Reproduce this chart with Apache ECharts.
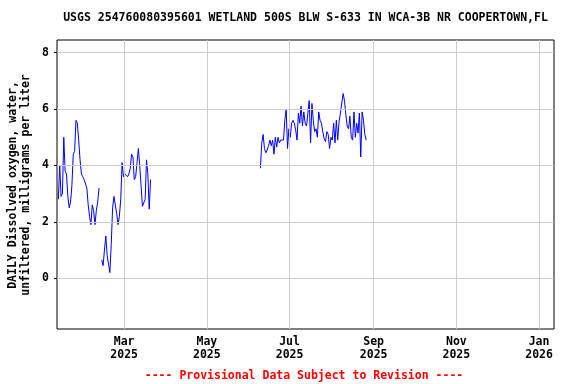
<!DOCTYPE html>
<html>
<head>
<meta charset="utf-8">
<script src="https://cdn.jsdelivr.net/npm/echarts@6/dist/echarts.min.js"></script>
<style>html,body{margin:0;padding:0;background:#fff}#c{width:576px;height:384px}</style>
</head>
<body>
<div id="c"></div>
<script>
var titleText = 'USGS 254760080395601 WETLAND 500S BLW S-633 IN WCA-3B NR COOPERTOWN,FL';
var yLabelLines = ['DAILY Dissolved oxygen, water,', 'unfiltered, milligrams per liter'];
var footerText = '---- Provisional Data Subject to Revision ----';

var xTickDates = ['2025-03-01', '2025-05-01', '2025-07-01', '2025-09-01', '2025-11-01', '2026-01-01'];
var xTickLabels = ['Mar\n2025', 'May\n2025', 'Jul\n2025', 'Sep\n2025', 'Nov\n2025', 'Jan\n2026'];
var yTicks = [0, 2, 4, 6, 8];
var xRange = ['2025-01-10T12:00:00Z', '2026-01-12T00:00:00Z'];
var yRange = [-1.8, 8.45];

// daily values, consecutive days from the start date (null = missing)
var seg1Start = '2025-01-11';
var seg1Values = [2.8, 4.0, 2.9, 3.0, 5.0, 3.8, 3.7, 2.9, 2.5, 2.7, 3.3, 4.4, 4.5, 5.6, 5.5, 4.9, 4.2, 3.7, 3.6, 3.5,
  3.5, 3.2, 2.6, 2.2, 1.9, 2.6, 2.4, 1.9, 2.4, 2.7, 3.2, null, 0.65, 0.45, 1.0, 1.5, 0.8, 0.5, 0.2, 1.2,
  2.5, 2.9, 2.9, 2.3, 1.9, 2.2, 2.8, 4.1, 3.6, 3.7, 3.7, 3.6, 3.7, 3.9, 4.4, 4.3, 3.5, 3.6, 4.1, 4.6,
  4.0, 3.3, 2.55, 2.55, 2.8, 4.2, 3.7, 2.45, 3.5];
var seg2Start = '2025-06-09';
var seg2Values = [3.9, 4.8, 5.1, 4.6, 4.45, 4.55, 4.7, 4.9, 4.7, 4.9, 4.4, 5.0, 4.65, 5.0, 4.8, 4.9, 4.95, 4.9, 5.6, 6.0,
  4.6, 5.3, 5.0, 5.5, 5.6, 5.5, 5.26, 4.9, 5.86, 5.5, 6.1, 5.4, 5.9, 5.5, 5.4, 5.85, 6.3, 4.8, 6.2, 5.6,
  5.2, 5.3, 5.0, 5.9, 5.6, 5.5, 5.2, 4.95, 4.85, 5.2, 5.1, 4.6, 5.0, 4.9, 5.5, 4.8, 5.6, 4.9, 5.55, 5.86,
  5.9, 6.55, 6.3, 5.8, 5.4, 5.3, 5.75, 5.0, 4.9, 5.9, 5.0, 5.5, 5.15, 5.86, 4.3, 5.9, 5.6, 5.1, 4.9];

var DAY = 86400000;
function segPoints(start, vals) {
  var t0 = Date.parse(start + 'T12:00:00Z');
  return vals.map(function (v, i) { return [t0 + i * DAY, v]; });
}
var data = segPoints(seg1Start, seg1Values);
data.push([Date.parse('2025-05-01T00:00:00Z'), null]);
data = data.concat(segPoints(seg2Start, seg2Values));

var xTickTimes = xTickDates.map(function (d) { return Date.parse(d + 'T00:00:00Z'); });
var labelMap = {};
xTickTimes.forEach(function (t, i) { labelMap[t] = xTickLabels[i]; });

var FONT = 'DejaVu Sans Mono';
var gridLines = [];
xTickTimes.forEach(function (t) { gridLines.push({ xAxis: t }); });
yTicks.forEach(function (v) { gridLines.push({ yAxis: v }); });

var chart = echarts.init(document.getElementById('c'), null, { renderer: 'canvas' });
chart.setOption({
  animation: false,
  backgroundColor: '#ffffff',
  grid: { left: 57, right: 22, top: 40, bottom: 55, show: true, borderColor: '#000', borderWidth: 1, backgroundColor: 'transparent' },
  xAxis: {
    type: 'value',
    min: Date.parse(xRange[0]), max: Date.parse(xRange[1]),
    axisLine: { show: false },
    splitLine: { show: false },
    axisTick: { show: false },
    axisLabel: {
      customValues: xTickTimes,
      formatter: function (v) { return labelMap[v] || ''; },
      fontFamily: FONT, fontWeight: 'bold', fontSize: 11.5, color: '#000', lineHeight: 13, margin: 7,
      hideOverlap: false
    }
  },
  yAxis: {
    type: 'value',
    min: yRange[0], max: yRange[1],
    axisLine: { show: false },
    splitLine: { show: false },
    axisTick: { show: true, length: 3, customValues: yTicks, lineStyle: { color: '#000' } },
    axisLabel: {
      customValues: yTicks,
      fontFamily: FONT, fontWeight: 'bold', fontSize: 11.5, color: '#000', margin: 8
    }
  },
  series: [
    {
      type: 'line', data: [], z: 1, silent: true,
      markLine: {
        silent: true, symbol: 'none', label: { show: false }, animation: false,
        lineStyle: { color: '#cccccc', width: 1, type: 'solid' },
        data: gridLines
      }
    },
    {
      type: 'line', data: data, z: 3, showSymbol: false, connectNulls: false,
      lineStyle: { color: '#0000ff', width: 1 }, itemStyle: { color: '#0000ff' }
    }
  ],
  graphic: [
    { type: 'text', x: 305.5, y: 18, style: { text: titleText, font: 'bold 11.5px "' + FONT + '"', fill: '#000', align: 'center', verticalAlign: 'middle' } },
    { type: 'text', x: 13, y: 185, rotation: Math.PI / 2, style: { text: yLabelLines[0], font: 'bold 11.5px "' + FONT + '"', fill: '#000', align: 'center', verticalAlign: 'middle' } },
    { type: 'text', x: 26, y: 185, rotation: Math.PI / 2, style: { text: yLabelLines[1], font: 'bold 11.5px "' + FONT + '"', fill: '#000', align: 'center', verticalAlign: 'middle' } },
    { type: 'text', x: 304, y: 376, style: { text: footerText, font: 'bold 11.5px "' + FONT + '"', fill: '#ff0000', align: 'center', verticalAlign: 'middle' } }
  ]
});
</script>
</body>
</html>
